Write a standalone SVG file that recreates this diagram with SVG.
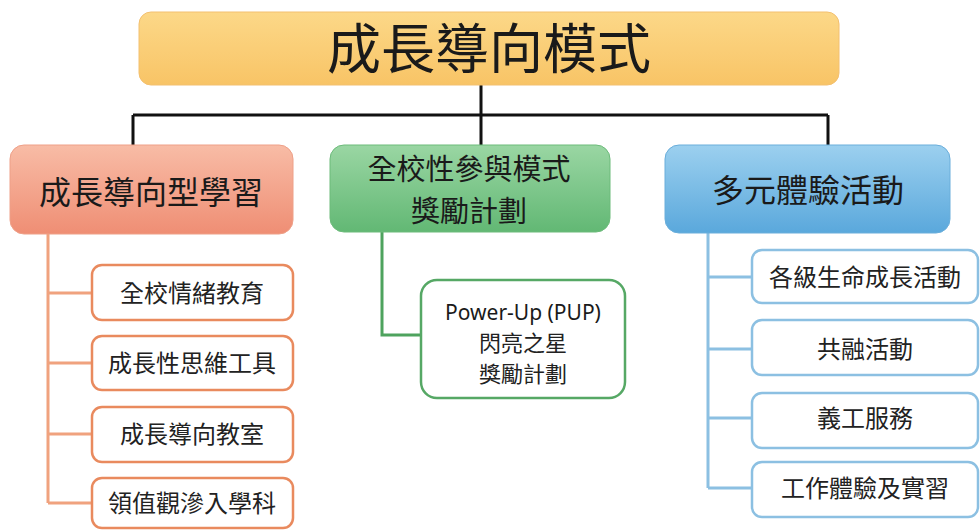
<svg xmlns="http://www.w3.org/2000/svg" width="980" height="530" viewBox="0 0 980 530">
<defs>
<linearGradient id="gTop" x1="0" y1="0" x2="0" y2="1"><stop offset="0" stop-color="#fcd888"/><stop offset="1" stop-color="#f8c466"/></linearGradient>
<linearGradient id="gL" x1="0" y1="0" x2="0" y2="1"><stop offset="0" stop-color="#f8bca6"/><stop offset="1" stop-color="#ef8e74"/></linearGradient>
<linearGradient id="gM" x1="0" y1="0" x2="0" y2="1"><stop offset="0" stop-color="#9ad6a3"/><stop offset="1" stop-color="#62b874"/></linearGradient>
<linearGradient id="gR" x1="0" y1="0" x2="0" y2="1"><stop offset="0" stop-color="#9cd0ef"/><stop offset="1" stop-color="#5aa8dc"/></linearGradient>
</defs>
<style>
text{font-family:"Noto Sans CJK TC","Noto Sans",sans-serif;text-anchor:middle;fill:#1a1a1a}
.head{font-size:32px}
.child{font-size:24px;fill:#222}
.cL{fill:#fff;stroke:#e98a5e;stroke-width:2.5}
.cM{fill:#fff;stroke:#56a865;stroke-width:2.5}
.cR{fill:#fff;stroke:#8cc0e2;stroke-width:2.5}
.lk{fill:none;stroke:#111;stroke-width:3}
.lL{fill:none;stroke:#f0a27e;stroke-width:3}
.lM{fill:none;stroke:#4ea35e;stroke-width:3}
.lR{fill:none;stroke:#8cc0e2;stroke-width:3}
</style>
<rect width="980" height="530" fill="#ffffff"/>
<g id="connectors">
<path class="lk" d="M481,85 V115 M133,115 H828 M133,115 V146 M481,115 V146 M828,115 V146"/>
<path class="lL" d="M48,234 V503 M48,293 H92 M48,363 H92 M48,434 H92 M48,503 H92"/>
<path class="lM" d="M382,232 V335 H421"/>
<path class="lR" d="M708,233 V488 M708,277 H752 M708,349 H752 M708,418 H752 M708,488 H752"/>
</g>
<g id="root">
<rect x="139" y="12" width="700" height="73" rx="12" fill="url(#gTop)" stroke="#f3c070" stroke-width="1"/>
<text x="489" y="69" style="font-size:54px">成長導向模式</text>
</g>
<g id="head-left">
<rect x="10" y="145" width="283" height="89" rx="14" fill="url(#gL)" stroke="#eea088" stroke-width="1"/>
<text class="head" x="151" y="204">成長導向型學習</text>
</g>
<g id="head-mid">
<rect x="330" y="145" width="280" height="87" rx="14" fill="url(#gM)" stroke="#6dbb7b" stroke-width="1"/>
<text x="469" y="180" style="font-size:29px">全校性參與模式</text>
<text x="469" y="222" style="font-size:29px">獎勵計劃</text>
</g>
<g id="head-right">
<rect x="665" y="145" width="285" height="88" rx="14" fill="url(#gR)" stroke="#6aaedb" stroke-width="1"/>
<text class="head" x="808" y="202">多元體驗活動</text>
</g>
<g id="l1"><rect class="cL" x="92" y="265" width="201" height="55" rx="10"/><text class="child" x="192" y="302">全校情緒教育</text></g>
<g id="l2"><rect class="cL" x="92" y="336" width="201" height="54" rx="10"/><text class="child" x="192" y="372">成長性思維工具</text></g>
<g id="l3"><rect class="cL" x="92" y="407" width="201" height="55" rx="10"/><text class="child" x="192" y="443">成長導向教室</text></g>
<g id="l4"><rect class="cL" x="92" y="478" width="201" height="50" rx="10"/><text class="child" x="192" y="512">領值觀滲入學科</text></g>
<g id="m1">
<rect class="cM" x="421" y="280" width="204" height="118" rx="16"/>
<text x="523" y="320" style="font-size:21px;font-family:'Noto Sans','Open Sans',sans-serif">Power-Up (PUP)</text>
<text x="523" y="351" style="font-size:22px;fill:#222">閃亮之星</text>
<text x="523" y="382" style="font-size:22px;fill:#222">獎勵計劃</text>
</g>
<g id="r1"><rect class="cR" x="752" y="250" width="226" height="53" rx="10"/><text class="child" x="865" y="286">各級生命成長活動</text></g>
<g id="r2"><rect class="cR" x="752" y="320" width="226" height="55" rx="10"/><text class="child" x="865" y="358">共融活動</text></g>
<g id="r3"><rect class="cR" x="752" y="393" width="226" height="55" rx="10"/><text class="child" x="865" y="427">義工服務</text></g>
<g id="r4"><rect class="cR" x="752" y="462" width="226" height="55" rx="10"/><text class="child" x="865" y="497">工作體驗及實習</text></g>
</svg>
